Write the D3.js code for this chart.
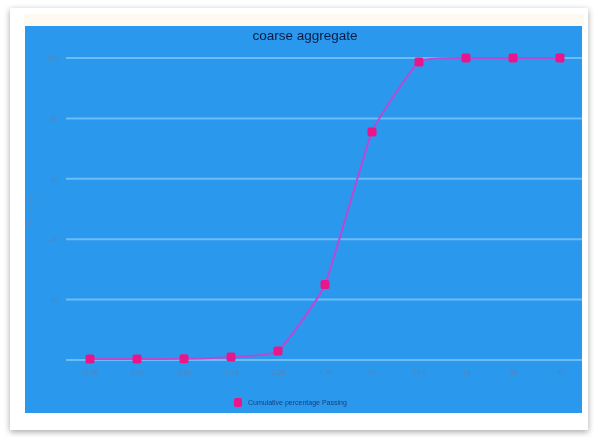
<!DOCTYPE html>
<html><head><meta charset="utf-8">
<script src="https://cdn.jsdelivr.net/npm/d3@7"></script>
<style>
html,body{margin:0;padding:0;background:#fff;}
svg{display:block;font-family:"Liberation Sans",Arial,sans-serif;}
</style></head>
<body>
<svg id="c" width="596" height="437"></svg>
<script>
const categories = ["0.15","0.30","0.60","1.18","2.36","4.75","10","12.5","16","20","40"];
const passing = [0.3, 0.3, 0.4, 1.0, 3.0, 25, 75.5, 98.7, 100, 100, 100];
const yTicks = [0, 20, 40, 60, 80, 100];
const title = "coarse aggregate";
const seriesName = "Cumulative percentage Passing";
const yTitle = "Percentage";

const svg = d3.select("#c");
const defs = svg.append("defs");
const f = defs.append("filter").attr("id","sh").attr("x","-5%").attr("y","-5%").attr("width","110%").attr("height","112%");
f.append("feDropShadow").attr("dx",0).attr("dy",2).attr("stdDeviation",3).attr("flood-color","#000").attr("flood-opacity",0.35);
const bl = defs.append("filter").attr("id","bl");
bl.append("feGaussianBlur").attr("stdDeviation",0.6);

// card
svg.append("rect").attr("x",10).attr("y",8).attr("width",578).attr("height",422).attr("fill","#fff").attr("filter","url(#sh)");
svg.append("rect").attr("x",24).attr("y",14).attr("width",560).attr("height",13).attr("fill","#fefaf2");
// plot background
svg.append("rect").attr("x",25).attr("y",26).attr("width",557).attr("height",387).attr("fill","#2a98ec");

const g = svg.append("g").attr("filter","url(#bl)");

const x = d3.scalePoint().domain(categories).range([90, 560]);
const y = d3.scaleLinear().domain([0, 100]).range([360, 58]);

// gridlines
g.append("g").selectAll("line").data(yTicks).join("line")
  .attr("x1",66).attr("x2",582)
  .attr("y1",d=>y(d)).attr("y2",d=>y(d))
  .attr("stroke","#6cbdf6").attr("stroke-width",2);

// y axis labels
const yAxis = d3.axisLeft(y).tickValues(yTicks.filter(d=>d>0)).tickSize(0).tickPadding(0);
const ya = g.append("g").attr("transform","translate(58,0)").call(yAxis);
ya.select(".domain").remove();
ya.selectAll("text").attr("fill","#4f86c0").attr("font-size",7);

// x axis labels
const xAxis = d3.axisBottom(x).tickSize(0).tickPadding(0);
const xa = g.append("g").attr("transform","translate(0,370)").call(xAxis);
xa.select(".domain").remove();
xa.selectAll("text").attr("fill","#4f86c0").attr("font-size",7);

// y title
g.append("text").attr("transform","translate(32,210) rotate(-90)").attr("text-anchor","middle")
  .attr("font-size",6).attr("fill","#4f8cc8").text(yTitle);

// title
g.append("text").attr("x",305).attr("y",40).attr("text-anchor","middle")
  .attr("font-size",13.5).attr("fill","#0b1d45").text(title);

// line
const line = d3.line().x((d,i)=>x(categories[i])).y(d=>y(d)).curve(d3.curveCardinal.tension(0.6));
g.append("path").datum(passing).attr("d",line).attr("fill","none")
  .attr("stroke","#b84ad6").attr("stroke-width",2);

// markers
g.append("g").selectAll("rect").data(passing).join("rect")
  .attr("x",(d,i)=>x(categories[i])-4.5).attr("y",d=>y(d)-4.5)
  .attr("width",9).attr("height",9).attr("rx",2)
  .attr("fill","#e8198a");

// legend
g.append("rect").attr("x",234).attr("y",398).attr("width",8).attr("height",9).attr("rx",2).attr("fill","#e8198a");
g.append("text").attr("x",248).attr("y",405).attr("font-size",7).attr("fill","#1a3f7a").text(seriesName);
</script>
</body></html>
